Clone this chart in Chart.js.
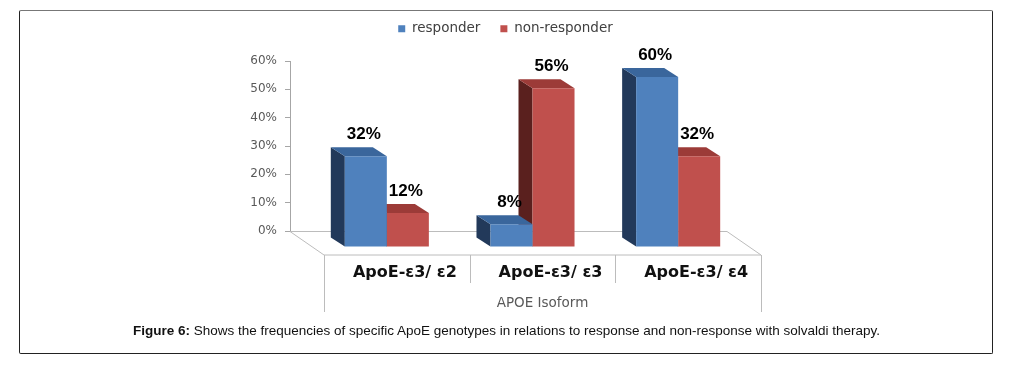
<!DOCTYPE html>
<html>
<head>
<meta charset="utf-8">
<script src="https://cdn.jsdelivr.net/npm/chart.js@4/dist/chart.umd.min.js"></script>
<style>
  html,body{margin:0;padding:0;background:#fff;}
  #wrap{position:relative;width:1013px;height:368px;overflow:hidden;}
  #frame{position:absolute;left:19px;top:10px;width:972px;height:342px;border:1.5px solid #222;border-top-color:#777;border-radius:2px;}
  #chart{position:absolute;left:0;top:0;}
  #caption{position:absolute;left:0;width:1013px;top:323px;text-align:center;font-family:"Liberation Sans Narrow","Liberation Sans",Arial,sans-serif;font-size:13.5px;color:#111;}
</style>
</head>
<body>
<div id="wrap">
  <div id="frame"></div>
  <canvas id="chart" width="1013" height="368"></canvas>
  <div id="caption"><b>Figure 6:</b> Shows the frequencies of specific ApoE genotypes in relations to response and non-response with solvaldi therapy.</div>
</div>
<script>
// chart data
const categories = ['ApoE-\u03b53/ \u03b52', 'ApoE-\u03b53/ \u03b53', 'ApoE-\u03b53/ \u03b54'];
const responder = [32, 8, 60];
const nonResponder = [12, 56, 32];
const yTicks = [0, 10, 20, 30, 40, 50, 60];

// fake 3d: bars sit in front of the back wall
const DX = 24, DY = 16;       // front plane offset
const DEPTH_X = 14, DEPTH_Y = 9; // bar depth
const FLOOR_X = 34, FLOOR_Y = 24;
const faces = [
  {side:'#22395a', top:'#3a669c'},
  {side:'#5a201e', top:'#9c3b38'}
];

const threeD = {
  id: 'threeD',
  beforeInit(chart) {
    // fixed legend height so the plot top lands where it should
    const lg = chart.legend;
    const fit = lg.fit;
    lg.fit = function () { fit.call(this); this.height = 59; };
  },
  afterLayout(chart) {
    chart.legend.left += 17;
    chart.legend.right += 17;
  },
  beforeDatasetsDraw(chart) {
    const {ctx, chartArea: a, scales: {x, y}} = chart;
    // floor + category box
    const y0 = y.getPixelForValue(0);
    const cw = (a.right - a.left) / categories.length;
    ctx.save();
    ctx.strokeStyle = '#bcbcbc'; ctx.lineWidth = 1;
    ctx.beginPath();
    ctx.moveTo(a.left, y0 + 0.5); ctx.lineTo(a.right, y0 + 0.5);
    ctx.lineTo(a.right + FLOOR_X, y0 + FLOOR_Y);
    ctx.lineTo(a.left + FLOOR_X, y0 + FLOOR_Y);
    ctx.lineTo(a.left, y0 + 0.5);
    for (let i = 0; i <= categories.length; i++) {
      const bx = Math.round(a.left + FLOOR_X + i * cw) + 0.5;
      const end = (i === 0 || i === categories.length) ? 81 : 52;
      ctx.moveTo(bx, y0 + FLOOR_Y); ctx.lineTo(bx, y0 + end);
    }
    ctx.stroke();
    ctx.fillStyle = '#595959';
    ctx.font = '13.5px "DejaVu Sans", Verdana, sans-serif';
    ctx.textAlign = 'center'; ctx.textBaseline = 'middle';
    ctx.fillText('APOE Isoform', (a.left + a.right) / 2 + FLOOR_X, y0 + 72);
    ctx.restore();

    ctx.save();
    ctx.translate(DX, DY);
  },
  beforeDatasetDraw(chart, args) {
    const ctx = chart.ctx;
    const f = faces[args.index];
    args.meta.data.forEach(bar => {
      const {x, y, base, width} = bar.getProps(['x', 'y', 'base', 'width'], true);
      const l = x - width / 2, r = x + width / 2;
      ctx.fillStyle = f.side;
      ctx.beginPath();
      ctx.moveTo(l, y); ctx.lineTo(l - DEPTH_X, y - DEPTH_Y);
      ctx.lineTo(l - DEPTH_X, base - DEPTH_Y); ctx.lineTo(l, base);
      ctx.closePath(); ctx.fill();
      ctx.fillStyle = f.top;
      ctx.beginPath();
      ctx.moveTo(l, y); ctx.lineTo(l - DEPTH_X, y - DEPTH_Y);
      ctx.lineTo(r - DEPTH_X, y - DEPTH_Y); ctx.lineTo(r, y);
      ctx.closePath(); ctx.fill();
    });
  },
  afterDatasetsDraw(chart) {
    const ctx = chart.ctx;
    ctx.restore();
    ctx.save();
    ctx.fillStyle = '#000';
    ctx.font = 'bold 17px "Liberation Sans", Arial, sans-serif';
    ctx.textAlign = 'center'; ctx.textBaseline = 'middle';
    chart.data.datasets.forEach((ds, i) => {
      chart.getDatasetMeta(i).data.forEach((bar, j) => {
        ctx.fillText(ds.data[j] + '%', bar.x + DX - 2, bar.y + DY - 22);
      });
    });
    ctx.restore();
  }
};

new Chart(document.getElementById('chart'), {
  type: 'bar',
  data: {
    labels: categories,
    datasets: [
      {label:'responder', data:responder, backgroundColor:'#4f81bd', clip:false},
      {label:'non-responder', data:nonResponder, backgroundColor:'#c0504d', clip:false}
    ]
  },
  options: {
    responsive: false,
    animation: false,
    layout: {padding: {left: 250, right: 286, top: 2, bottom: 57}},
    categoryPercentage: 0.577,
    barPercentage: 1,
    plugins: {
      legend: {
        labels: {
          boxWidth: 7, boxHeight: 7, padding: 20, color: '#404040',
          font: {family: '"DejaVu Sans", Verdana, sans-serif', size: 13.5}
        }
      },
      tooltip: {enabled: false}
    },
    scales: {
      x: {
        grid: {display: false, drawTicks: false},
        border: {display: false},
        ticks: {
          labelOffset: FLOOR_X + 8, padding: 32, color: '#111',
          font: {family: '"DejaVu Sans", Verdana, sans-serif', size: 16, weight: 'bold'}
        },
        afterFit: s => { s.height = 80; }
      },
      y: {
        min: 0, max: 60,
        afterBuildTicks: s => { s.ticks = yTicks.map(v => ({value: v})); },
        grid: {drawOnChartArea: false, drawTicks: true, tickLength: 5, color: '#a6a6a6'},
        border: {display: true, color: '#a6a6a6'},
        ticks: {
          padding: 8, color: '#595959',
          font: {family: '"DejaVu Sans", Verdana, sans-serif', size: 12},
          callback: v => v + '%'
        },
        afterFit: s => { s.width = 40; }
      }
    }
  },
  plugins: [threeD]
});
</script>
</body>
</html>
